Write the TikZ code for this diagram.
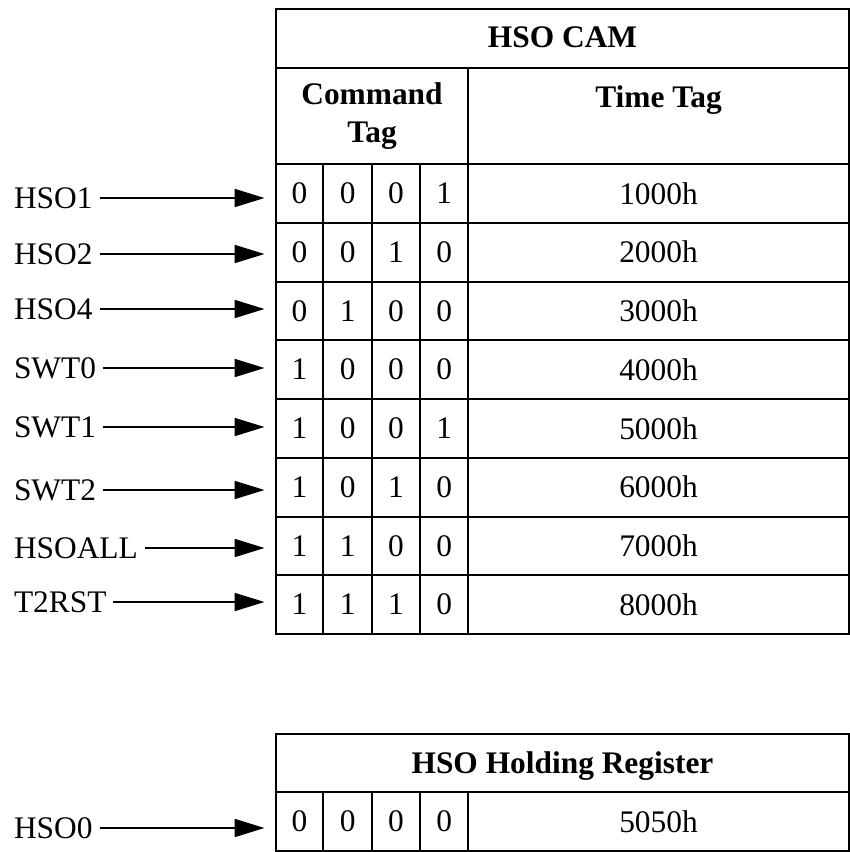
\documentclass[tikz,border=0pt]{standalone}
\usepackage{fontspec}
\setmainfont{Liberation Serif}
\usetikzlibrary{arrows.meta}

\begin{document}
\begin{tikzpicture}[x=0.5pt,y=-0.5pt,line width=1pt,
  txt/.style={font=\fontsize{15.7}{18.8}\selectfont},
  head/.style={font=\fontsize{15.7}{18.8}\selectfont\bfseries,align=center,inner sep=0pt},
  lbl/.style={txt,anchor=west,inner sep=3pt},
  bitcell/.style={txt,inner sep=0pt,minimum width=24pt},
  sig/.style={-{Triangle[length=15pt,width=9pt]},shorten >=5pt}]
\useasboundingbox (0,0) rectangle (850,852);
\draw (276,9) rectangle (849,634);
\draw (276,68) -- (849,68);
\draw (276,164) -- (849,164);
\draw (468,68) -- (468,634);
\foreach \x in {323,372,420} \draw (\x,164) -- (\x,634);
\foreach \i in {1,...,7} \draw (276,{164+\i*58.75}) -- (849,{164+\i*58.75});
\node[head,anchor=base] (cam) at (562.5,47) {HSO CAM};
\node[head,anchor=north] (cmd) at (372,82) {Command\\Tag};
\node[head,anchor=base] (time) at (658.5,107) {Time Tag};
\foreach \name/\bits/\val/\ly [count=\i] in
  {HSO1/{0,0,0,1}/1000h/198,HSO2/{0,0,1,0}/2000h/254,
   HSO4/{0,1,0,0}/3000h/309,SWT0/{1,0,0,0}/4000h/368,
   SWT1/{1,0,0,1}/5000h/427,SWT2/{1,0,1,0}/6000h/490,
   HSOALL/{1,1,0,0}/7000h/548,T2RST/{1,1,1,0}/8000h/602}
{
  \foreach \b [count=\j] in \bits
    \node[bitcell] (b-\i-\j) at ({299.5+(\j-1)*48.2},{164+(\i-0.5)*58.75}) {\b};
  \node[txt] (v-\i) at (658.5,{164+(\i-0.5)*58.75}) {\val};
  \node[lbl] (in-\i) at (7,\ly) {\name};
  \draw[sig] (in-\i) -- (in-\i -| b-\i-1.west);
}
\draw (276,734) rectangle (849,851);
\draw (276,792) -- (849,792);
\foreach \x in {323,372,420,468} \draw (\x,792) -- (\x,851);
\node[head,anchor=base] (reg) at (562.5,773) {HSO Holding Register};
\foreach \b [count=\j] in {0,0,0,0}
  \node[bitcell] (b-0-\j) at ({299.5+(\j-1)*48.2},821.5) {\b};
\node[txt] (v-0) at (658.5,821.5) {5050h};
\node[lbl] (in-0) at (7,828) {HSO0};
\draw[sig] (in-0) -- (in-0 -| b-0-1.west);
\end{tikzpicture}
\end{document}
